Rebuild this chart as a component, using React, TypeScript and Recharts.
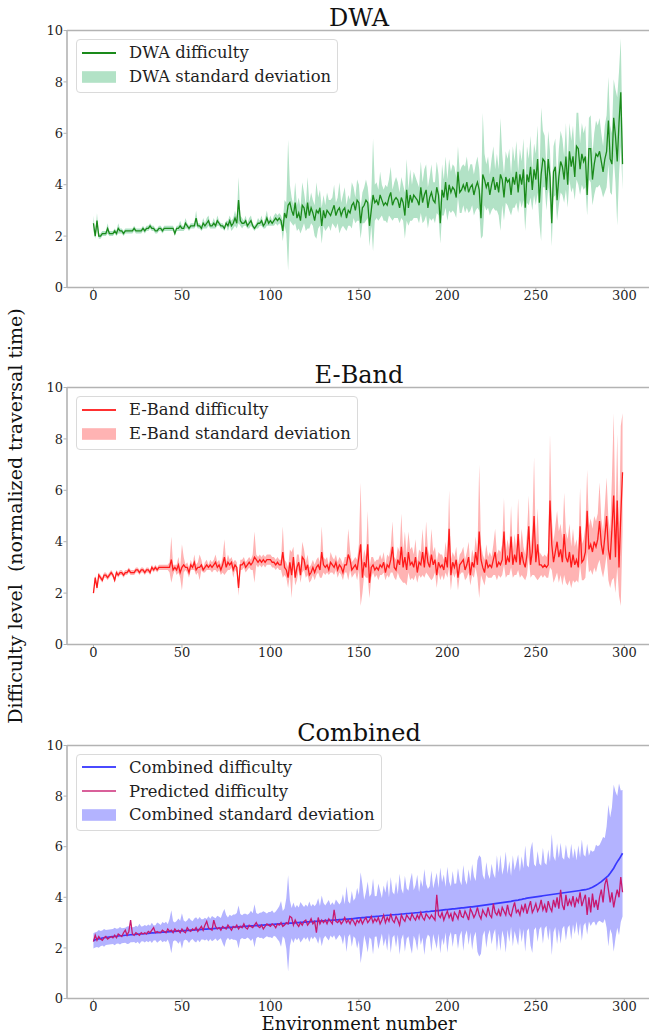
import React from "react";
import { ComposedChart, Area, Line, XAxis, YAxis, ReferenceLine } from "recharts";

const FONT = "'DejaVu Serif', serif";
const SPINE = "#b3b3b3";
const TEXT = "#1f1f1f";

// x categories: environment numbers 0..299
const envCount = 300;
const xTicks = [0, 50, 100, 150, 200, 250, 300];
const yTicks = [0, 2, 4, 6, 8, 10];

// DWA mean difficulty and standard deviation
const dwaMean = [
  2.5, 2.0, 2.6, 2.0, 2.0, 2.1, 2.1, 2.1, 2.3, 2.1, 2.1, 2.1, 2.2, 2.1, 2.3, 2.2, 2.2, 2.1, 2.2, 2.2,
  2.2, 2.2, 2.2, 2.3, 2.2, 2.2, 2.2, 2.2, 2.3, 2.2, 2.3, 2.3, 2.4, 2.3, 2.3, 2.2, 2.2, 2.3, 2.3, 2.2,
  2.3, 2.3, 2.3, 2.3, 2.3, 2.3, 2.1, 2.3, 2.3, 2.4, 2.3, 2.3, 2.5, 2.4, 2.3, 2.4, 2.4, 2.4, 2.7, 2.4,
  2.4, 2.3, 2.5, 2.4, 2.5, 2.6, 2.4, 2.4, 2.5, 2.4, 2.6, 2.5, 2.4, 2.4, 2.3, 2.5, 2.4, 2.6, 2.4, 2.5,
  2.7, 2.5, 3.4, 2.6, 2.5, 2.5, 2.6, 2.4, 2.5, 2.6, 2.4, 2.3, 2.4, 2.5, 2.5, 2.6, 2.4, 2.5, 2.7, 2.5,
  2.6, 2.5, 2.6, 2.7, 2.6, 2.7, 2.6, 2.2, 2.9, 2.7, 3.2, 3.3, 3.0, 2.8, 3.3, 2.7, 2.9, 2.6, 3.2, 3.1,
  2.7, 3.3, 2.8, 3.1, 2.9, 2.6, 3.0, 2.9, 3.1, 2.4, 3.0, 2.7, 3.0, 2.9, 2.8, 3.0, 3.2, 2.8, 3.0, 3.1,
  2.8, 3.0, 3.1, 2.7, 3.0, 2.9, 3.2, 3.3, 3.0, 3.4, 3.3, 2.5, 3.1, 3.2, 3.4, 3.3, 2.4, 3.0, 3.6, 3.3,
  3.4, 3.2, 3.6, 3.4, 3.2, 3.3, 3.2, 3.5, 3.7, 3.2, 3.4, 3.5, 3.4, 3.1, 3.5, 3.3, 2.8, 3.8, 3.1, 3.6,
  3.3, 3.6, 3.5, 3.4, 3.2, 3.9, 3.3, 3.6, 3.8, 3.1, 3.5, 3.7, 3.4, 3.3, 3.9, 3.6, 2.5, 3.8, 3.5, 4.1,
  3.4, 4.0, 3.7, 3.9, 3.8, 3.5, 4.5, 3.7, 3.8, 4.0, 3.8, 4.1, 3.7, 3.9, 4.0, 3.6, 3.9, 4.1, 3.8, 2.7,
  4.4, 4.2, 3.9, 4.1, 3.6, 4.0, 4.3, 3.8, 4.1, 3.7, 4.4, 4.2, 3.5, 4.3, 4.1, 4.2, 3.6, 4.3, 4.0, 4.5,
  3.7, 4.4, 4.0, 4.6, 3.1, 4.4, 4.1, 4.7, 3.8, 4.6, 4.2, 5.0, 3.3, 4.4, 5.0, 4.9, 3.8, 5.0, 4.3, 2.5,
  4.5, 4.7, 3.4, 4.3, 4.9, 4.7, 4.2, 5.1, 4.0, 5.3, 4.7, 5.1, 4.3, 5.5, 5.4, 4.6, 5.2, 4.9, 5.1, 3.6,
  5.4, 5.4, 4.2, 4.8, 5.2, 5.1, 5.3, 4.9, 4.5, 5.0, 5.3, 6.5, 5.0, 4.8, 6.6, 5.9, 4.9, 6.4, 7.6, 4.8,
];
const dwaStd = [
  0.3, 0.1, 0.3, 0.1, 0.1, 0.1, 0.1, 0.1, 0.2, 0.1, 0.1, 0.1, 0.1, 0.1, 0.2, 0.1, 0.1, 0.1, 0.1, 0.1,
  0.1, 0.1, 0.1, 0.1, 0.1, 0.1, 0.1, 0.1, 0.1, 0.1, 0.1, 0.1, 0.1, 0.1, 0.1, 0.1, 0.1, 0.1, 0.1, 0.1,
  0.1, 0.1, 0.1, 0.1, 0.1, 0.1, 0.1, 0.1, 0.1, 0.2, 0.1, 0.1, 0.2, 0.1, 0.1, 0.1, 0.1, 0.1, 0.3, 0.1,
  0.1, 0.1, 0.2, 0.1, 0.2, 0.2, 0.1, 0.1, 0.2, 0.1, 0.2, 0.1, 0.1, 0.1, 0.1, 0.1, 0.2, 0.2, 0.2, 0.2,
  0.3, 0.2, 0.9, 0.2, 0.2, 0.1, 0.2, 0.1, 0.2, 0.2, 0.1, 0.1, 0.1, 0.2, 0.1, 0.2, 0.1, 0.2, 0.3, 0.1,
  0.2, 0.1, 0.2, 0.2, 0.2, 0.2, 0.2, 0.4, 0.5, 0.6, 2.55, 0.7, 0.5, 0.4, 0.8, 0.5, 0.6, 0.5, 0.9, 0.6,
  0.5, 1.0, 0.5, 0.6, 0.5, 0.6, 1.1, 0.6, 0.7, 0.7, 0.6, 0.5, 0.7, 0.5, 0.6, 0.5, 0.8, 0.5, 0.5, 1.0,
  0.5, 0.6, 0.8, 0.5, 0.6, 0.5, 0.9, 0.6, 0.5, 0.8, 0.7, 0.6, 0.6, 0.7, 0.8, 0.6, 0.8, 0.6, 2.2, 0.7,
  0.7, 0.6, 0.9, 0.6, 0.6, 0.7, 0.7, 0.7, 1.0, 0.6, 0.7, 0.8, 0.7, 0.6, 0.8, 0.7, 0.9, 1.2, 0.7, 1.0,
  0.7, 0.9, 0.8, 0.7, 0.7, 1.0, 0.8, 1.0, 1.0, 0.8, 0.8, 1.1, 0.7, 0.8, 1.0, 0.8, 0.8, 1.0, 0.7, 1.0,
  0.8, 1.0, 0.8, 0.9, 0.9, 0.8, 1.0, 0.8, 0.9, 0.8, 0.9, 1.0, 0.8, 0.9, 0.8, 0.8, 0.9, 1.0, 0.8, 0.8,
  2.4, 1.0, 0.9, 1.0, 0.8, 1.0, 1.2, 0.8, 1.1, 0.9, 2.2, 1.0, 0.9, 1.0, 0.9, 1.2, 0.8, 1.2, 0.9, 1.2,
  0.8, 1.0, 0.9, 1.2, 0.9, 1.1, 0.9, 1.2, 0.8, 1.0, 1.0, 1.3, 0.8, 2.6, 1.1, 1.0, 0.8, 1.1, 1.0, 0.9,
  1.0, 1.1, 0.8, 1.1, 1.2, 1.1, 0.9, 1.3, 0.9, 1.1, 1.0, 1.2, 0.9, 1.3, 1.4, 1.0, 1.2, 1.1, 1.2, 0.8,
  1.2, 1.3, 1.0, 1.2, 1.3, 1.2, 1.3, 1.1, 1.0, 1.3, 1.4, 1.7, 1.3, 1.2, 1.5, 1.8, 2.5, 2.0, 2.1, 1.0,
];

// E-Band mean difficulty and standard deviation
const ebandMean = [
  2.0, 2.6, 2.2, 2.7, 2.6, 2.5, 2.7, 2.7, 2.6, 2.7, 2.8, 2.7, 2.5, 2.8, 2.7, 2.8, 2.8, 2.7, 2.8, 2.8,
  2.9, 2.8, 2.8, 2.8, 2.9, 2.9, 2.8, 2.9, 2.9, 2.8, 2.9, 2.9, 2.8, 3.0, 2.9, 3.0, 2.9, 3.0, 3.0, 3.0,
  3.0, 3.0, 3.0, 3.0, 3.3, 2.9, 3.0, 2.9, 3.1, 2.8, 3.0, 3.1, 3.0, 3.0, 2.8, 3.1, 3.0, 3.2, 2.9, 3.0,
  3.0, 3.1, 2.9, 3.0, 3.1, 3.0, 3.1, 3.0, 3.1, 3.2, 3.0, 3.1, 2.9, 3.1, 3.4, 3.0, 3.2, 3.1, 3.2, 2.9,
  3.1, 3.0, 2.2, 3.1, 3.1, 3.2, 3.0, 3.1, 3.2, 3.1, 3.2, 3.4, 3.3, 3.2, 3.3, 3.2, 3.3, 3.2, 3.3, 3.3,
  3.3, 3.2, 3.2, 3.1, 3.2, 3.1, 3.1, 3.6, 3.0, 2.9, 2.6, 3.2, 2.7, 3.4, 2.6, 3.0, 3.2, 2.7, 3.4, 3.3,
  2.9, 3.1, 2.7, 2.8, 3.0, 2.8, 3.0, 3.1, 2.9, 3.6, 3.1, 3.0, 3.1, 2.9, 3.2, 3.1, 3.0, 3.2, 2.9, 3.1,
  3.0, 2.8, 3.1, 3.1, 3.5, 3.3, 2.9, 3.0, 3.1, 2.9, 3.4, 3.9, 2.6, 3.2, 3.0, 3.9, 2.4, 3.0, 3.1, 2.9,
  3.0, 2.9, 3.1, 3.0, 3.2, 2.8, 3.1, 3.0, 3.3, 3.8, 3.0, 2.9, 3.3, 3.1, 3.8, 3.0, 3.4, 2.9, 3.6, 3.1,
  3.2, 3.0, 3.4, 2.8, 3.2, 3.1, 3.6, 3.0, 3.8, 3.2, 3.0, 3.5, 3.1, 3.3, 2.7, 3.2, 3.0, 3.1, 2.9, 3.4,
  3.0, 4.5, 2.7, 3.2, 3.0, 3.3, 2.6, 3.1, 3.2, 3.3, 2.9, 3.1, 3.4, 2.7, 3.2, 3.0, 3.6, 3.1, 4.4, 3.3,
  3.0, 2.8, 3.3, 3.0, 3.1, 3.0, 3.3, 3.6, 3.0, 3.2, 3.1, 3.3, 4.4, 3.1, 3.4, 3.2, 4.2, 3.1, 3.5, 3.2,
  4.3, 3.1, 3.6, 3.2, 3.0, 3.5, 4.6, 3.1, 3.6, 5.0, 3.2, 3.9, 3.1, 3.1, 3.0, 3.1, 3.0, 3.1, 5.6, 3.9,
  3.2, 3.6, 4.0, 3.4, 3.7, 3.2, 4.3, 3.4, 3.2, 3.6, 3.0, 3.5, 3.1, 3.3, 3.0, 4.6, 3.2, 3.3, 3.6, 5.2,
  3.7, 3.9, 3.6, 4.0, 3.8, 4.1, 4.8, 3.9, 3.5, 4.2, 5.0, 3.7, 3.3, 4.5, 5.8, 3.4, 5.6, 3.0, 5.0, 6.7,
];
const ebandStd = [
  0.05, 0.1, 0.1, 0.1, 0.1, 0.1, 0.1, 0.1, 0.1, 0.1, 0.1, 0.1, 0.1, 0.1, 0.1, 0.1, 0.1, 0.1, 0.1, 0.1,
  0.1, 0.1, 0.1, 0.1, 0.1, 0.1, 0.1, 0.1, 0.1, 0.1, 0.1, 0.1, 0.1, 0.1, 0.1, 0.1, 0.1, 0.1, 0.1, 0.1,
  0.1, 0.1, 0.1, 0.2, 0.9, 0.2, 0.1, 0.2, 0.3, 0.2, 0.9, 0.3, 0.1, 0.2, 0.2, 0.2, 0.1, 0.3, 0.2, 0.2,
  0.5, 0.2, 0.1, 0.2, 0.2, 0.1, 0.2, 0.2, 0.2, 0.3, 0.2, 0.2, 0.2, 0.3, 0.7, 0.2, 0.3, 0.2, 0.2, 0.3,
  0.2, 0.2, 0.3, 0.2, 0.2, 0.2, 0.2, 0.2, 0.2, 0.2, 0.3, 1.0, 0.2, 0.2, 0.2, 0.2, 0.2, 0.2, 0.2, 0.2,
  0.2, 0.2, 0.2, 0.2, 0.2, 0.2, 0.2, 1.0, 0.3, 0.3, 0.4, 0.5, 0.9, 0.4, 0.3, 0.5, 0.3, 0.3, 0.6, 0.4,
  0.3, 0.4, 0.3, 0.3, 0.3, 0.3, 0.3, 0.3, 0.3, 1.0, 0.3, 0.3, 0.3, 0.2, 0.4, 0.3, 0.3, 0.3, 0.3, 0.3,
  0.3, 0.3, 0.3, 0.3, 1.0, 0.4, 0.3, 0.3, 0.3, 0.4, 0.5, 2.4, 0.6, 0.5, 0.4, 1.3, 0.6, 0.4, 0.3, 0.3,
  0.3, 0.4, 0.4, 0.3, 0.4, 0.3, 0.4, 0.4, 0.5, 1.0, 0.4, 0.4, 0.5, 0.5, 1.3, 0.6, 1.0, 0.6, 0.8, 0.6,
  0.6, 0.5, 0.7, 0.4, 0.5, 0.5, 0.9, 0.4, 1.0, 0.5, 0.4, 1.0, 0.5, 0.5, 0.5, 0.4, 0.5, 0.4, 0.4, 0.6,
  0.4, 1.5, 0.6, 0.4, 0.4, 0.5, 0.5, 0.4, 0.4, 0.5, 0.4, 0.5, 0.6, 0.4, 0.5, 0.4, 0.6, 0.5, 2.6, 0.6,
  0.5, 0.5, 0.6, 0.4, 0.5, 0.4, 0.6, 0.9, 0.5, 0.5, 0.5, 0.6, 1.3, 0.5, 0.7, 0.5, 1.2, 0.5, 0.8, 0.5,
  1.4, 0.5, 0.9, 0.6, 0.5, 0.8, 1.2, 0.5, 0.9, 2.3, 0.6, 1.4, 0.5, 0.4, 0.4, 0.4, 0.4, 0.5, 2.6, 1.0,
  0.8, 1.0, 1.2, 1.0, 1.0, 0.9, 1.6, 1.0, 0.9, 1.1, 0.8, 1.0, 0.7, 0.8, 0.6, 1.5, 0.7, 0.8, 1.0, 1.6,
  0.9, 1.0, 0.9, 1.0, 1.0, 1.0, 1.5, 1.0, 0.9, 1.2, 1.5, 1.2, 1.1, 2.0, 3.2, 1.4, 2.6, 1.1, 3.5, 2.3,
];

// Combined (sorted) mean difficulty, its standard deviation, and the predicted difficulty
const combinedMean = [
  2.28, 2.32, 2.34, 2.36, 2.37, 2.39, 2.40, 2.41, 2.42, 2.43, 2.44, 2.45, 2.45, 2.46, 2.47, 2.48, 2.48, 2.49, 2.50, 2.50,
  2.51, 2.52, 2.52, 2.53, 2.53, 2.54, 2.55, 2.55, 2.56, 2.56, 2.57, 2.57, 2.58, 2.59, 2.59, 2.60, 2.60, 2.61, 2.61, 2.62,
  2.62, 2.63, 2.63, 2.64, 2.64, 2.65, 2.65, 2.66, 2.66, 2.67, 2.67, 2.68, 2.68, 2.69, 2.69, 2.70, 2.70, 2.71, 2.71, 2.72,
  2.72, 2.73, 2.73, 2.74, 2.74, 2.75, 2.75, 2.76, 2.76, 2.77, 2.77, 2.78, 2.78, 2.79, 2.79, 2.80, 2.80, 2.81, 2.81, 2.82,
  2.82, 2.83, 2.83, 2.84, 2.84, 2.85, 2.85, 2.86, 2.86, 2.87, 2.87, 2.88, 2.88, 2.89, 2.89, 2.90, 2.90, 2.91, 2.91, 2.92,
  2.92, 2.93, 2.93, 2.94, 2.94, 2.95, 2.95, 2.96, 2.96, 2.97, 2.97, 2.98, 2.98, 2.99, 2.99, 3.00, 3.00, 3.01, 3.01, 3.02,
  3.02, 3.03, 3.03, 3.04, 3.04, 3.05, 3.05, 3.06, 3.06, 3.07, 3.07, 3.08, 3.08, 3.09, 3.09, 3.10, 3.10, 3.11, 3.11, 3.12,
  3.12, 3.13, 3.13, 3.14, 3.14, 3.15, 3.15, 3.16, 3.17, 3.18, 3.19, 3.19, 3.20, 3.20, 3.21, 3.22, 3.22, 3.23, 3.24, 3.24,
  3.25, 3.25, 3.26, 3.27, 3.27, 3.28, 3.29, 3.29, 3.30, 3.31, 3.31, 3.32, 3.32, 3.33, 3.34, 3.34, 3.35, 3.36, 3.36, 3.37,
  3.37, 3.38, 3.39, 3.39, 3.40, 3.41, 3.41, 3.42, 3.43, 3.43, 3.44, 3.45, 3.45, 3.46, 3.47, 3.47, 3.48, 3.49, 3.50, 3.51,
  3.51, 3.52, 3.53, 3.54, 3.54, 3.55, 3.56, 3.57, 3.58, 3.58, 3.59, 3.60, 3.61, 3.62, 3.62, 3.63, 3.64, 3.65, 3.66, 3.67,
  3.68, 3.69, 3.70, 3.71, 3.72, 3.73, 3.74, 3.75, 3.76, 3.77, 3.78, 3.79, 3.80, 3.81, 3.82, 3.83, 3.84, 3.86, 3.87, 3.88,
  3.89, 3.91, 3.92, 3.94, 3.95, 3.97, 3.98, 3.99, 4.00, 4.01, 4.02, 4.03, 4.04, 4.05, 4.06, 4.07, 4.08, 4.09, 4.10, 4.11,
  4.12, 4.13, 4.14, 4.15, 4.16, 4.17, 4.18, 4.19, 4.20, 4.21, 4.22, 4.23, 4.24, 4.25, 4.26, 4.27, 4.28, 4.29, 4.30, 4.32,
  4.34, 4.37, 4.40, 4.44, 4.48, 4.52, 4.57, 4.62, 4.68, 4.74, 4.80, 4.86, 4.95, 5.05, 5.15, 5.28, 5.40, 5.50, 5.62, 5.74,
];
const combinedStd = [
  0.3, 0.3, 0.3, 0.35, 0.3, 0.3, 0.35, 0.3, 0.3, 0.3, 0.3, 0.3, 0.35, 0.3, 0.3, 0.35, 0.3, 0.3, 0.3, 0.35,
  0.35, 0.3, 0.3, 0.3, 0.35, 0.3, 0.4, 0.3, 0.3, 0.35, 0.3, 0.35, 0.3, 0.4, 0.3, 0.3, 0.4, 0.35, 0.3, 0.4,
  0.35, 0.4, 0.3, 0.5, 0.85, 0.4, 0.35, 0.4, 0.5, 0.4, 0.7, 0.4, 0.35, 0.4, 0.5, 0.4, 0.35, 0.45, 0.5, 0.4,
  0.5, 0.4, 0.4, 0.45, 0.4, 0.5, 0.4, 0.5, 0.45, 0.4, 0.5, 0.45, 0.4, 0.6, 0.75, 0.5, 0.4, 0.5, 0.45, 0.5,
  0.5, 0.55, 0.85, 0.5, 0.45, 0.5, 0.5, 0.45, 0.5, 0.6, 0.5, 0.85, 0.5, 0.45, 0.5, 0.5, 0.55, 0.5, 0.45, 0.5,
  0.5, 0.55, 0.45, 0.5, 0.6, 0.7, 0.9, 0.5, 0.6, 1.0, 1.9, 0.9, 0.6, 0.8, 0.6, 0.7, 0.6, 0.8, 0.7, 0.6,
  0.7, 0.6, 0.8, 0.6, 0.7, 0.6, 0.7, 0.9, 0.6, 1.0, 0.7, 0.6, 0.7, 0.8, 0.6, 0.7, 0.6, 0.8, 0.7, 0.6,
  0.7, 1.0, 0.6, 1.3, 0.7, 0.6, 1.1, 0.7, 0.8, 1.2, 0.9, 1.8, 1.3, 0.7, 1.0, 1.4, 0.8, 0.9, 1.5, 0.8,
  0.8, 1.3, 1.0, 0.7, 1.2, 0.9, 1.4, 0.7, 1.5, 0.9, 0.8, 1.3, 0.8, 1.6, 1.0, 0.8, 1.5, 1.0, 0.9, 1.3,
  1.6, 0.9, 1.1, 1.5, 0.8, 1.3, 1.0, 1.7, 1.1, 0.9, 1.0, 1.6, 0.9, 1.2, 1.5, 0.9, 1.7, 1.1, 1.4, 0.9,
  1.7, 1.1, 0.9, 1.5, 1.0, 1.0, 1.6, 1.1, 0.9, 1.7, 1.1, 0.9, 1.5, 1.0, 1.7, 1.2, 1.0, 1.8, 2.0, 1.9,
  1.2, 1.0, 1.7, 1.2, 1.0, 1.6, 1.2, 1.0, 1.9, 1.2, 1.9, 1.1, 1.4, 2.0, 1.1, 1.6, 1.0, 1.8, 1.2, 1.5,
  1.8, 1.1, 1.7, 1.2, 2.1, 1.3, 1.2, 1.9, 2.2, 1.3, 1.2, 1.8, 1.3, 1.2, 1.9, 1.3, 1.2, 1.8, 1.3, 2.4,
  1.5, 1.3, 2.0, 1.4, 2.0, 1.4, 1.3, 1.9, 1.4, 1.3, 1.9, 1.3, 1.7, 1.2, 1.8, 1.3, 2.0, 1.4, 1.3, 1.8,
  1.3, 1.5, 1.4, 1.4, 1.6, 1.5, 1.5, 1.6, 1.7, 1.6, 2.0, 2.8, 2.2, 2.5, 3.3, 2.9, 2.6, 3.0, 2.6, 2.5,
];
const predicted = [
  2.25, 2.5, 2.3, 2.45, 2.35, 2.3, 2.4, 2.45, 2.35, 2.4, 2.45, 2.4, 2.5, 2.4, 2.55, 2.5, 2.45, 2.6, 2.7, 2.5,
  2.65, 3.1, 2.55, 2.5, 2.6, 2.55, 2.5, 2.6, 2.55, 2.6, 2.55, 2.65, 2.6, 2.7, 2.8, 2.6, 2.65, 2.6, 2.6, 2.7,
  2.65, 2.6, 2.75, 2.65, 2.7, 2.6, 2.75, 2.65, 2.7, 2.6, 2.75, 2.65, 2.6, 2.8, 2.7, 2.65, 2.75, 2.7, 2.8, 2.65,
  2.75, 2.85, 2.7, 2.9, 3.05, 2.8, 2.75, 2.7, 3.1, 2.85, 2.75, 2.8, 2.7, 2.85, 2.8, 2.75, 2.9, 2.8, 2.7, 2.85,
  2.8, 2.9, 2.75, 2.85, 2.8, 2.95, 2.8, 2.75, 2.9, 2.85, 2.8, 2.9, 3.0, 2.85, 2.8, 2.9, 2.75, 2.85, 2.95, 2.9,
  2.85, 2.95, 2.9, 2.8, 2.95, 2.9, 3.0, 2.85, 2.9, 3.0, 2.95, 3.25, 3.2, 2.9, 3.1, 2.95, 2.85, 3.0, 2.9, 3.05,
  3.1, 2.9, 3.0, 3.15, 2.95, 3.05, 2.6, 3.2, 2.95, 3.1, 3.0, 3.1, 2.95, 3.15, 3.05, 2.95, 3.5, 3.05, 3.0, 3.1,
  2.95, 3.05, 3.2, 3.0, 3.1, 2.95, 3.15, 3.05, 2.9, 3.1, 3.0, 3.15, 2.95, 3.1, 3.2, 3.0, 3.1, 3.25, 3.0, 3.15,
  3.05, 3.2, 2.95, 3.1, 3.3, 3.0, 3.2, 3.05, 3.35, 3.1, 3.0, 3.25, 3.1, 2.9, 3.3, 3.15, 3.05, 3.3, 3.2, 3.1,
  3.35, 3.2, 3.1, 3.3, 3.15, 3.4, 3.2, 3.1, 3.35, 3.25, 3.15, 3.3, 3.2, 3.1, 4.1, 3.3, 3.2, 3.4, 3.1, 3.3,
  3.45, 3.2, 3.35, 3.05, 3.4, 3.3, 3.15, 3.5, 3.25, 3.2, 3.45, 3.3, 3.1, 3.55, 3.4, 3.2, 3.35, 3.6, 3.3, 3.15,
  3.5, 3.35, 3.25, 3.6, 3.3, 3.2, 3.75, 3.4, 3.3, 3.5, 3.25, 3.6, 3.45, 3.3, 3.7, 3.35, 3.25, 3.55, 3.8, 3.4,
  3.5, 3.3, 3.65, 3.45, 3.75, 3.35, 3.6, 3.85, 3.4, 3.55, 3.75, 3.45, 3.6, 3.9, 3.5, 3.7, 3.4, 3.85, 3.6, 3.45,
  3.9, 3.6, 4.0, 3.55, 4.3, 3.7, 3.5, 4.1, 3.65, 3.9, 3.7, 4.05, 3.6, 3.95, 3.8, 4.2, 3.65, 3.9, 4.1, 3.3,
  4.0, 3.4, 4.15, 3.6, 3.9, 3.5, 4.0, 4.3, 3.8, 4.5, 4.75, 4.3, 3.8, 4.2, 3.6, 4.0, 4.3, 4.0, 4.8, 4.2,
];

const band = (m: number[], s: number[], i: number): [number, number] => [m[i] - s[i], m[i] + s[i]];

const rows = Array.from({ length: envCount }, (_, i) => ({
  env: i,
  dwa: dwaMean[i],
  dwaBand: band(dwaMean, dwaStd, i),
  eband: ebandMean[i],
  ebandBand: band(ebandMean, ebandStd, i),
  combined: combinedMean[i],
  combinedBand: band(combinedMean, combinedStd, i),
  predicted: predicted[i],
}));

type LegendItem = { label: string; color: string; kind: "line" | "patch" };
type LineSpec = { key: string; color: string; width: number };

const MARGIN_TOP = 30.5;
const X_AXIS_H = 30;

function LegendBox({ items, top }: { items: LegendItem[]; top: number }) {
  return (
    <div
      style={{
        position: "absolute",
        left: 76,
        top,
        border: "1px solid #dadada",
        borderRadius: 4,
        background: "rgba(255,255,255,0.85)",
        padding: "1px 6px 3px 5px",
        fontFamily: FONT,
        fontSize: 16.4,
        color: TEXT,
        whiteSpace: "nowrap",
      }}
    >
      {items.map((it) => (
        <div key={it.label} style={{ display: "flex", alignItems: "center", height: 23.8 }}>
          <svg width={34} height={14} style={{ marginRight: 13, flex: "none" }}>
            {it.kind === "line" ? (
              <line x1={0} x2={34} y1={7} y2={7} stroke={it.color} strokeWidth={1.8} />
            ) : (
              <rect x={0} y={1.2} width={34} height={11.6} fill={it.color} />
            )}
          </svg>
          <span>{it.label}</span>
        </div>
      ))}
    </div>
  );
}

function Panel({
  top,
  plotH,
  bandKey,
  bandColor,
  lines,
  legend,
}: {
  top: number;
  plotH: number;
  bandKey: string;
  bandColor: string;
  lines: LineSpec[];
  legend: LegendItem[];
}) {
  const tickStyle = { fill: TEXT, fontSize: 13, fontFamily: FONT };
  return (
    <div style={{ position: "absolute", left: 0, top }}>
      <ComposedChart
        width={660}
        height={MARGIN_TOP + plotH + X_AXIS_H}
        data={rows}
        margin={{ top: MARGIN_TOP, right: 11, bottom: 0, left: 27 }}
      >
        <XAxis
          dataKey="env"
          type="number"
          domain={[-14.95, 313.95]}
          ticks={xTicks}
          interval={0}
          height={X_AXIS_H}
          allowDataOverflow
          tickSize={3.5}
          tickMargin={0}
          axisLine={{ stroke: SPINE, strokeWidth: 1.6 }}
          tickLine={{ stroke: SPINE, strokeWidth: 1 }}
          tick={tickStyle}
        />
        <YAxis
          type="number"
          domain={[0, 10]}
          ticks={yTicks}
          interval={0}
          width={40}
          allowDataOverflow
          tickSize={3.5}
          tickMargin={0.5}
          axisLine={{ stroke: SPINE, strokeWidth: 1.6 }}
          tickLine={{ stroke: SPINE, strokeWidth: 1 }}
          tick={tickStyle}
        />
        <ReferenceLine y={10} stroke={SPINE} strokeWidth={1.6} />
        <Area
          dataKey={bandKey}
          type="linear"
          stroke="none"
          fill={bandColor}
          fillOpacity={1}
          dot={false}
          activeDot={false}
          isAnimationActive={false}
        />
        {lines.map((l) => (
          <Line
            key={l.key}
            dataKey={l.key}
            type="linear"
            stroke={l.color}
            strokeWidth={l.width}
            dot={false}
            activeDot={false}
            isAnimationActive={false}
          />
        ))}
      </ComposedChart>
      <LegendBox items={legend} top={MARGIN_TOP + 8.5} />
    </div>
  );
}

export default function App() {
  const titleStyle = { fontFamily: FONT, fontSize: 24, fill: "#111" };
  const labelStyle = { fontFamily: FONT, fontSize: 19, fill: "#111", whiteSpace: "pre" as const };
  const xLabelStyle = { fontFamily: FONT, fontSize: 18, fill: "#111" };
  return (
    <div
      style={{
        position: "absolute",
        left: 0,
        top: 0,
        width: 649,
        height: 1034,
        overflow: "hidden",
        background: "#fff",
      }}
    >
      <Panel
        top={0}
        plotH={257}
        bandKey="dwaBand"
        bandColor="#b2e2c6"
        lines={[{ key: "dwa", color: "#1a8a1a", width: 1.3 }]}
        legend={[
          { label: "DWA difficulty", color: "#1a8a1a", kind: "line" },
          { label: "DWA standard deviation", color: "#b2e2c6", kind: "patch" },
        ]}
      />
      <Panel
        top={357}
        plotH={257}
        bandKey="ebandBand"
        bandColor="#ffb3b3"
        lines={[{ key: "eband", color: "#ff1a1a", width: 1.3 }]}
        legend={[
          { label: "E-Band difficulty", color: "#ff3030", kind: "line" },
          { label: "E-Band standard deviation", color: "#ffb3b3", kind: "patch" },
        ]}
      />
      <Panel
        top={714.5}
        plotH={253}
        bandKey="combinedBand"
        bandColor="#b3b3ff"
        lines={[
          { key: "combined", color: "#3838ff", width: 1.7 },
          { key: "predicted", color: "#c8186e", width: 1.3 },
        ]}
        legend={[
          { label: "Combined difficulty", color: "#4a4aff", kind: "line" },
          { label: "Predicted difficulty", color: "#d9609a", kind: "line" },
          { label: "Combined standard deviation", color: "#b3b3ff", kind: "patch" },
        ]}
      />
      <svg
        width={649}
        height={1034}
        style={{ position: "absolute", left: 0, top: 0, pointerEvents: "none" }}
      >
        <text x={359} y={26.2} textAnchor="middle" style={titleStyle}>DWA</text>
        <text x={359} y={383.2} textAnchor="middle" style={titleStyle}>E-Band</text>
        <text x={359} y={740.7} textAnchor="middle" style={titleStyle}>Combined</text>
        <text x={359} y={1029.8} textAnchor="middle" style={xLabelStyle}>Environment number</text>
        <text transform="translate(22,516) rotate(-90)" textAnchor="middle" style={labelStyle}>
          {"Difficulty level  (normalized traversal time)"}
        </text>
      </svg>
    </div>
  );
}
